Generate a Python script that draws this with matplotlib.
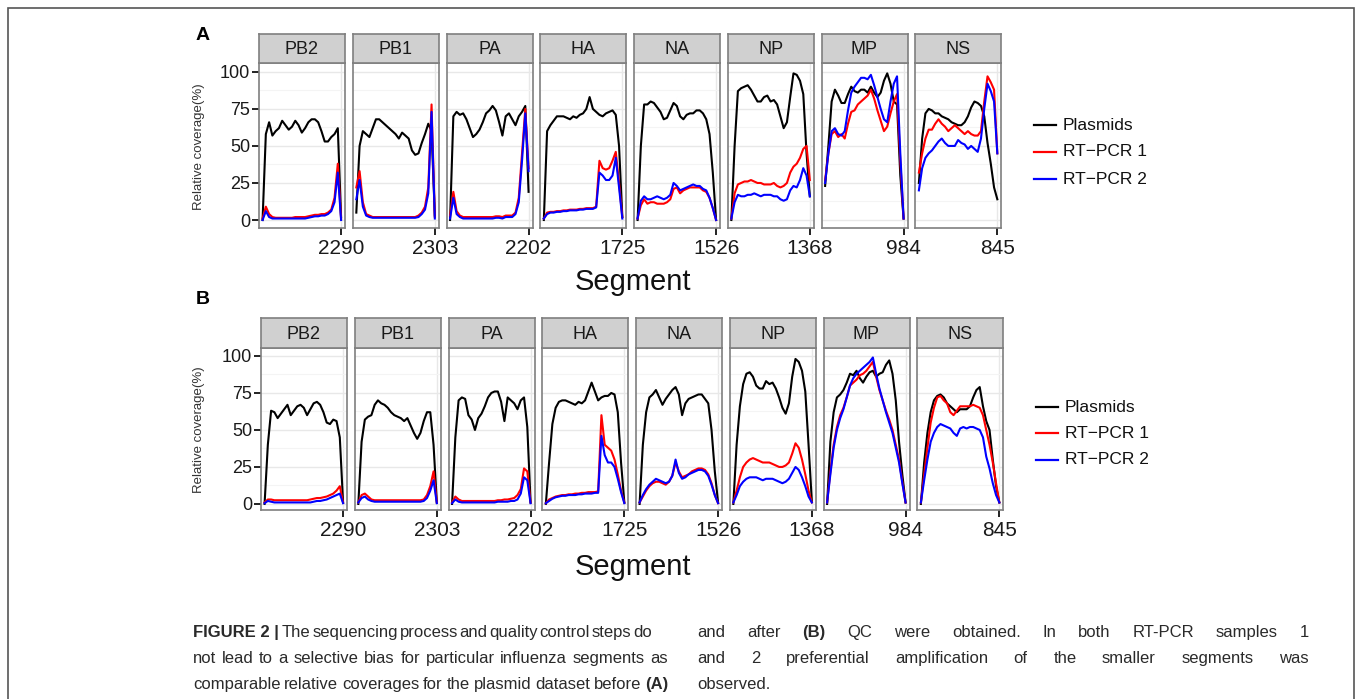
"""Relative coverage per influenza segment, before (A) and after (B) QC."""
import matplotlib
matplotlib.use("Agg")
import matplotlib.pyplot as plt
from matplotlib.lines import Line2D
from matplotlib.patches import Rectangle
import numpy as np

plt.rcParams["font.family"] = ["Liberation Sans", "DejaVu Sans"]

segments = ["PB2", "PB1", "PA", "HA", "NA", "NP", "MP", "NS"]
seg_lengths = [2290, 2303, 2202, 1725, 1526, 1368, 984, 845]
series_names = ["Plasmids", "RT\u2212PCR 1", "RT\u2212PCR 2"]
series_colors = ["black", "#ff0000", "#0000ff"]
y_ticks = [0, 25, 50, 75, 100]

# coverage (%) read at 25 evenly spaced positions along each segment
plasmids_a = {
    "PB2": [0, 58, 66, 57, 60, 62, 67, 64, 61, 63, 67, 64, 59, 62, 66, 68, 68, 66, 60, 53, 53, 56, 58, 62, 2],
    "PB1": [5, 50, 60, 58, 56, 62, 68, 68, 66, 64, 62, 60, 58, 55, 59, 57, 55, 47, 44, 45, 52, 58, 65, 60, 3],
    "PA": [0, 70, 73, 71, 72, 68, 62, 56, 58, 61, 66, 72, 74, 77, 74, 66, 57, 70, 72, 68, 64, 70, 73, 77, 19],
    "HA": [0, 60, 64, 67, 70, 70, 70, 69, 68, 70, 69, 71, 72, 75, 83, 75, 73, 71, 70, 72, 73, 74, 71, 50, 2],
    "NA": [0, 50, 78, 78, 80, 79, 76, 73, 68, 69, 74, 79, 77, 70, 68, 71, 72, 72, 74, 74, 72, 68, 58, 32, 0],
    "NP": [0, 50, 87, 89, 90, 91, 88, 84, 80, 80, 83, 84, 80, 81, 78, 70, 62, 66, 83, 99, 98, 94, 85, 45, 16],
    "MP": [23, 50, 80, 88, 84, 79, 79, 85, 90, 87, 86, 88, 88, 86, 90, 86, 83, 86, 94, 99, 92, 80, 78, 30, 1],
    "NS": [25, 55, 72, 75, 74, 72, 72, 70, 69, 68, 66, 65, 64, 64, 66, 70, 76, 80, 79, 77, 70, 52, 38, 22, 14],
}
rtpcr1_a = {
    "PB2": [1, 9, 4, 2, 1.5, 1.5, 1.5, 1.5, 1.5, 1.5, 2, 2, 2, 2, 2.5, 3, 3.5, 3.5, 4, 4, 5, 7, 15, 38, 1],
    "PB1": [22, 33, 12, 4, 3, 2, 2, 2, 2, 2, 2, 2, 2, 2, 2, 2, 2, 2, 2, 3, 5, 9, 22, 78, 2],
    "PA": [3, 19, 6, 3, 2, 2, 2, 2, 2, 2, 2, 2, 2, 2, 2.5, 2.5, 2, 3, 3, 3, 5, 15, 45, 75, 35],
    "HA": [1, 5, 5.5, 5.5, 6, 6, 6.5, 6.5, 7, 7, 7, 7.5, 7.5, 8, 8, 8, 9, 40, 35, 34, 35, 40, 46, 25, 2],
    "NA": [1, 10, 14, 11, 12, 12, 11, 11, 11, 12, 14, 21, 22, 18, 20, 21, 22, 22, 22, 22, 20, 19, 15, 8, 0],
    "NP": [1, 18, 24, 25, 26, 26, 27, 26, 25, 25, 24, 24, 24, 25, 23, 22, 23, 25, 32, 36, 38, 42, 48, 50, 27],
    "MP": [27, 45, 58, 60, 56, 58, 55, 65, 73, 74, 78, 80, 82, 84, 88, 82, 74, 67, 60, 63, 72, 80, 85, 40, 1],
    "NS": [32, 45, 55, 61, 61, 65, 68, 65, 63, 60, 62, 64, 62, 60, 58, 60, 58, 57, 57, 60, 80, 97, 93, 88, 45],
}
rtpcr2_a = {
    "PB2": [0, 6, 2, 1, 1, 1, 1, 1, 1, 1, 1, 1, 1, 1, 1.5, 2, 2.5, 2.5, 3, 3, 4, 6, 12, 32, 0],
    "PB1": [14, 27, 9, 3, 2, 1.5, 1.5, 1.5, 1.5, 1.5, 1.5, 1.5, 1.5, 1.5, 1.5, 1.5, 1.5, 1.5, 1.5, 2, 4, 7, 18, 73, 1],
    "PA": [1, 15, 4, 2, 1, 1, 1, 1, 1, 1, 1, 1, 1, 1, 1.5, 1.5, 1, 2, 2, 2, 4, 12, 40, 72, 33],
    "HA": [1, 4, 5, 5, 5.5, 5.5, 6, 6, 6.5, 6.5, 6.5, 7, 7, 7.5, 7.5, 7.5, 8.5, 32, 30, 27, 27, 30, 42, 22, 1],
    "NA": [1, 13, 16, 14, 14, 15, 16, 15, 14, 15, 17, 25, 23, 20, 21, 22, 23, 24, 23, 23, 21, 20, 15, 8, 0],
    "NP": [1, 12, 17, 16, 16, 17, 17, 18, 17, 16, 17, 17, 17, 16, 16, 14, 13, 14, 20, 23, 22, 27, 35, 30, 16],
    "MP": [25, 45, 60, 62, 58, 57, 60, 74, 86, 90, 93, 96, 96, 95, 98, 91, 83, 75, 68, 66, 80, 92, 97, 45, 1],
    "NS": [20, 35, 42, 45, 47, 50, 53, 55, 52, 50, 50, 50, 54, 52, 51, 48, 50, 48, 46, 55, 75, 92, 87, 80, 45],
}
plasmids_b = {
    "PB2": [0, 40, 63, 62, 58, 61, 64, 67, 60, 63, 66, 67, 65, 60, 64, 68, 69, 67, 62, 55, 54, 57, 56, 45, 1],
    "PB1": [0, 42, 57, 59, 60, 67, 70, 68, 67, 65, 62, 60, 59, 58, 56, 58, 53, 48, 44, 48, 56, 62, 62, 40, 1],
    "PA": [0, 45, 70, 72, 71, 60, 57, 50, 58, 61, 66, 72, 75, 76, 76, 69, 56, 72, 70, 68, 64, 70, 72, 52, 1],
    "HA": [0, 28, 54, 65, 69, 70, 70, 69, 68, 67, 69, 68, 70, 76, 82, 76, 70, 72, 73, 73, 75, 74, 62, 28, 1],
    "NA": [0, 40, 62, 72, 74, 77, 72, 67, 71, 74, 77, 79, 74, 60, 68, 71, 72, 73, 74, 74, 71, 68, 50, 22, 1],
    "NP": [0, 40, 66, 81, 88, 89, 86, 80, 78, 78, 83, 81, 82, 78, 72, 65, 61, 68, 86, 98, 96, 90, 76, 40, 2],
    "MP": [0, 42, 62, 72, 74, 77, 82, 88, 87, 90, 85, 82, 86, 89, 90, 86, 88, 89, 94, 97, 88, 70, 42, 20, 1],
    "NS": [0, 28, 48, 62, 70, 73, 74, 72, 68, 66, 64, 62, 64, 64, 64, 66, 72, 77, 79, 66, 56, 50, 30, 12, 1],
}
rtpcr1_b = {
    "PB2": [1, 3, 3, 2.5, 2.5, 2.5, 2.5, 2.5, 2.5, 2.5, 2.5, 2.5, 2.5, 2.5, 3, 3.5, 4, 4, 4.5, 5, 6, 7, 9, 12, 1],
    "PB1": [1, 6, 7, 5, 3, 2.5, 2.5, 2.5, 2.5, 2.5, 2.5, 2.5, 2.5, 2.5, 2.5, 2.5, 2.5, 2.5, 2.5, 2.5, 3, 6, 12, 22, 1],
    "PA": [1, 5, 3, 2, 2, 2, 2, 2, 2, 2, 2, 2, 2, 2, 2.5, 2.5, 3, 3, 3.5, 4, 6, 10, 24, 22, 1],
    "HA": [0.5, 3, 4, 5, 5.5, 6, 6, 6.5, 6.5, 7, 7, 7.5, 7.5, 8, 8, 8, 8.5, 60, 40, 38, 36, 30, 20, 9, 1],
    "NA": [1, 5, 9, 12, 14, 15, 15, 14, 13, 15, 19, 28, 22, 18, 19, 20, 22, 23, 24, 24, 23, 20, 14, 6, 0.5],
    "NP": [1, 9, 18, 25, 28, 30, 31, 30, 29, 28, 28, 28, 27, 26, 25, 25, 26, 28, 34, 41, 38, 30, 20, 9, 1],
    "MP": [1, 22, 40, 52, 60, 65, 72, 80, 82, 84, 87, 88, 90, 93, 96, 86, 77, 70, 63, 57, 50, 40, 30, 15, 1],
    "NS": [1, 20, 38, 55, 65, 72, 73, 70, 68, 62, 60, 63, 66, 66, 66, 66, 67, 66, 65, 60, 50, 40, 28, 14, 1],
}
rtpcr2_b = {
    "PB2": [0.5, 2, 1.5, 1, 1, 1, 1, 1, 1, 1, 1, 1, 1, 1, 1, 1.5, 2, 2, 2.5, 3, 4, 5, 6, 7, 0.5],
    "PB1": [1, 4, 5, 3, 2, 1.5, 1.5, 1.5, 1.5, 1.5, 1.5, 1.5, 1.5, 1.5, 1.5, 1.5, 1.5, 1.5, 1.5, 1.5, 2, 4, 9, 16, 0.5],
    "PA": [0.5, 3, 1.5, 1, 1, 1, 1, 1, 1, 1, 1, 1, 1, 1, 1.5, 1.5, 1.5, 1.5, 2, 2, 3, 7, 18, 16, 0.5],
    "HA": [0.5, 2, 3.5, 4.5, 5, 5.5, 5.5, 6, 6, 6, 6.5, 6.5, 7, 7, 7, 7.5, 7.5, 46, 33, 28, 28, 25, 17, 8, 0.5],
    "NA": [1, 6, 10, 13, 15, 17, 16, 15, 14, 15, 19, 30, 21, 17, 18, 20, 21, 22, 23, 23, 22, 19, 13, 6, 0.5],
    "NP": [1, 6, 12, 15, 17, 18, 18, 18, 17, 16, 17, 17, 17, 16, 15, 14, 15, 17, 21, 25, 23, 18, 12, 5, 1],
    "MP": [1, 20, 38, 50, 58, 64, 72, 80, 85, 88, 90, 92, 94, 96, 99, 88, 78, 70, 62, 55, 48, 38, 28, 14, 1],
    "NS": [1, 16, 30, 42, 48, 52, 54, 53, 52, 51, 48, 46, 51, 52, 51, 52, 52, 51, 50, 45, 32, 24, 14, 6, 1],
}

caption_left = [
    "The sequencing process and quality control steps do",
    "not lead to a selective bias for particular influenza segments as",
    "comparable relative coverages for the plasmid dataset before **(A)**",
]
caption_right = [
    "and after **(B)** QC were obtained. In both RT-PCR samples 1",
    "and 2 preferential amplification of the smaller segments was",
    "observed.",
]

W, H = 1357, 699
fig = plt.figure(figsize=(W / 100, H / 100), dpi=100)


def px_axes(x0, y0, x1, y1):
    return fig.add_axes([x0 / W, 1 - y1 / H, (x1 - x0) / W, (y1 - y0) / H])


def fx(x):
    return x / W


def fy(y):
    return 1 - y / H


BORDER = "#7f7f7f"
rows = [
    dict(tag="A", series=(plasmids_a, rtpcr1_a, rtpcr2_a), left=259, strip_top=34, top=63,
         bottom=228, ylim=(-5.4, 106), tag_y=36, ylab_y=147, seg_y=290, leg_y=(125, 152, 179),
         leg_x=1034),
    dict(tag="B", series=(plasmids_b, rtpcr1_b, rtpcr2_b), left=261, strip_top=318, top=348,
         bottom=510, ylim=(-4.1, 105.4), tag_y=300, ylab_y=430, seg_y=575, leg_y=(407, 433, 460),
         leg_x=1036),
]
pitch, width = 93.75, 86

for row in rows:
    for k, (seg, L) in enumerate(zip(segments, seg_lengths)):
        x0 = row["left"] + k * pitch
        ax = px_axes(x0, row["top"], x0 + width, row["bottom"])
        pos = np.linspace(1, L, 25)
        for data, color in zip(row["series"], series_colors):
            ax.plot(pos, data[seg], color=color, lw=1.5, solid_joinstyle="round")
        ax.set_xlim(-0.045 * L, 1.05 * L)
        ax.set_ylim(*row["ylim"])
        ax.set_xticks([L])
        ax.set_xticklabels([str(L)], fontsize=15, color="#1a1a1a")
        ax.set_yticks(y_ticks)
        ax.set_yticks([12.5, 37.5, 62.5, 87.5], minor=True)
        ax.grid(True, which="major", color="#e8e8e8", lw=1.0)
        ax.grid(True, which="minor", axis="y", color="#f4f4f4", lw=0.8)
        ax.set_axisbelow(True)
        ax.tick_params(axis="x", length=5, width=1.4, color="#222222", pad=3)
        ax.tick_params(axis="y", which="major", length=5, width=1.4, color="#222222", pad=1.5)
        ax.tick_params(axis="y", which="minor", length=0)
        if k == 0:
            ax.set_yticklabels([str(v) for v in y_ticks], fontsize=13, color="#1a1a1a")
        else:
            ax.tick_params(axis="y", which="major", length=0, labelleft=False)
        for sp in ax.spines.values():
            sp.set_color(BORDER)
            sp.set_linewidth(1.2)

        st = px_axes(x0, row["strip_top"], x0 + width, row["top"])
        st.set_facecolor("#d0d0d0")
        st.set_xticks([])
        st.set_yticks([])
        for sp in st.spines.values():
            sp.set_color(BORDER)
            sp.set_linewidth(1.2)
        st.text(0.5, 0.45, seg, ha="center", va="center", fontsize=13, color="#1a1a1a",
                transform=st.transAxes)

    fig.text(fx(203), fy(row["tag_y"]), row["tag"], fontsize=14, fontweight="bold",
             ha="center", va="center")
    fig.text(fx(199), fy(row["ylab_y"]), "Relative coverage(%)", rotation=90, fontsize=9.5,
             color="#333333", ha="center", va="center")
    fig.text(fx(633), fy(row["seg_y"]), "Segment", fontsize=21, ha="center", va="baseline",
             color="#111111")
    for name, color, y in zip(series_names, series_colors, row["leg_y"]):
        fig.add_artist(Line2D([fx(row["leg_x"]), fx(row["leg_x"] + 22)], [fy(y), fy(y)],
                              color=color, lw=1.6, transform=fig.transFigure))
        fig.text(fx(row["leg_x"] + 29), fy(y), name, fontsize=12.5, ha="left", va="center",
                 color="#111111")

# outer frame of the figure box
fig.add_artist(Rectangle((fx(8), fy(720)), fx(1354) - fx(8), fy(8) - fy(720), fill=False,
                         ec="#555555", lw=1.2, transform=fig.transFigure))

# justified two-column caption
cap_kw = dict(fontsize=12, color="#2a2a2a", va="baseline", ha="left")
renderer = fig.canvas.get_renderer()


def place_line(line, x0, x1, y, justify=True):
    words = []
    for w in line.split(" "):
        bold = w.startswith("**")
        words.append(fig.text(0, fy(y), w.strip("*"), fontweight="bold" if bold else "normal",
                              **cap_kw))
    widths = [t.get_window_extent(renderer).width for t in words]
    gap = (x1 - x0 - sum(widths)) / (len(words) - 1) if justify else 4.5
    x = x0
    for t, wd in zip(words, widths):
        t.set_x(fx(x))
        x += wd + gap


line_y = [637, 663, 689]
head = fig.text(fx(193), fy(line_y[0]), "FIGURE 2 |", fontweight="bold", **cap_kw)
head_w = head.get_window_extent(renderer).width
left_ends = [652, 668, 668]
for i, line in enumerate(caption_left):
    start = 193 + head_w + 3 if i == 0 else 193
    place_line(line, start, left_ends[i], line_y[i])
for i, line in enumerate(caption_right):
    place_line(line, 697, 1309, line_y[i], justify=i < len(caption_right) - 1)

fig.savefig("out.png", dpi=100)
